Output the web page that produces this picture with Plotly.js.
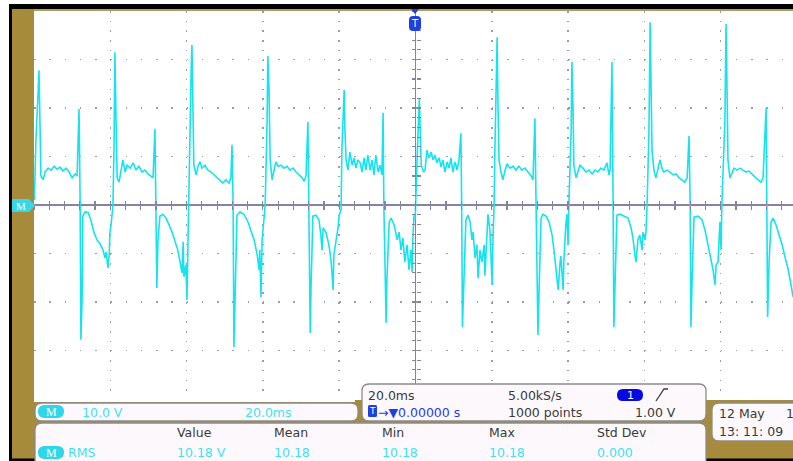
<!DOCTYPE html>
<html>
<head>
<meta charset="utf-8">
<script src="https://cdn.plot.ly/plotly-3.0.1.min.js"></script>
<style>html,body{margin:0;padding:0;background:#fff;}#chart{width:793px;height:461px;}</style>
</head>
<body>
<div id="chart"></div>
<script>
// ---- waveform samples: [time (ms), voltage (V)], one array per mains cycle ----
const cycle0 = [[-99.9,1.0],[-99.5,13.4],[-98.9,23.7],[-98.7,27.8],[-98.4,15.5],[-98.2,6.0],
 [-97.6,5.2],[-97.1,6.8],[-96.3,7.6],[-95.5,7.2],[-94.7,8.0],[-94.0,7.4],[-93.2,7.8],[-92.4,7.0],[-91.6,7.6],[-90.8,6.8],[-90.0,5.6],[-89.2,6.4],[-88.7,6.0],
 [-88.2,19.8],[-87.9,0],[-87.7,-27.8],[-87.4,-19.6],[-87.2,-2.3],[-86.6,-1.4],[-85.8,-1.6],[-85.1,-3.1],[-84.3,-5.6],[-83.5,-7.2],[-82.7,-8.0],[-81.9,-9.3],[-81.4,-10.9],[-81.1,-9.7],[-80.9,-11.8],[-80.6,-13.0],[-80.3,-10.3],[-80.1,-5.6],[-79.8,-4.1]];
const cycle1 = [[-79.3,0],[-79.0,13.4],[-78.8,31.5],[-78.5,17.5],[-78.2,5.6],[-77.7,4.7],[-77.2,7.2],[-76.7,9.3],[-76.1,6.8],[-75.6,8.2],[-74.8,7.6],[-74.0,8.7],[-73.3,7.2],[-72.5,8.0],[-71.7,6.8],[-70.9,7.2],[-70.1,6.4],[-69.3,6.0],[-68.8,5.6],
 [-68.3,15.7],[-68.0,0],[-67.8,-17.1],[-67.5,-7.2],[-67.0,-2.3],[-66.2,-1.9],[-65.4,-2.7],[-64.6,-4.1],[-63.8,-5.6],[-63.0,-7.6],[-62.3,-9.3],[-61.7,-11.8],[-61.2,-14.0],[-60.9,-7.6],[-60.7,-14.8],[-60.2,-12.4],[-59.9,-19.6],[-59.6,-6.2],[-59.4,4.7]];
const cycle2 = [[-58.8,27.8],[-58.6,33.0],[-58.3,19.6],[-58.1,8.2],[-57.5,6.2],[-57.0,8.0],[-56.5,8.9],[-56.0,7.6],[-55.2,8.2],[-54.4,7.2],[-53.6,6.8],[-52.8,6.2],[-52.0,5.6],[-51.2,5.2],[-50.5,4.5],[-49.7,5.2],[-48.9,4.5],[-48.4,5.6],
 [-48.1,12.4],[-47.8,0],[-47.6,-29.3],[-47.3,-19.6],[-46.8,-2.1],[-46.0,-1.4],[-45.0,-1.9],[-43.9,-3.5],[-43.1,-5.2],[-42.3,-7.2],[-41.5,-10.3],[-41.0,-13.4],[-40.8,-9.3],[-40.5,-19.0],[-40.2,-7.2],[-39.4,0]];
const cycle3 = [[-38.9,17.5],[-38.7,30.7],[-38.4,23.7],[-38.1,9.3],[-37.6,5.2],[-37.1,7.2],[-36.6,8.9],[-36.0,8.0],[-35.2,8.2],[-34.5,7.6],[-33.7,8.0],[-32.9,7.2],[-32.1,7.6],[-31.3,6.8],[-30.5,6.2],[-29.7,5.6],[-29.2,4.9],[-28.7,6.0],
 [-28.2,17.1],[-27.9,0],[-27.6,-26.4],[-27.4,-17.5],[-26.9,-2.3],[-26.1,-2.1],[-25.3,-3.1],[-24.8,-6.2],[-24.5,-9.3],[-24.2,-4.7],[-23.5,-5.6],[-22.7,-8.2],[-22.1,-11.8],[-21.6,-17.5],[-21.4,-10.3],[-20.8,-7.2],[-20.3,-4.7],[-20.0,-2.1],[-19.5,-1.0]];
const cycle4 = [[-19.3,11.3],[-18.7,23.7],[-18.5,15.5],[-18.2,9.3],[-17.7,7.2],[-17.2,10.9],[-16.6,8.2],[-16.1,9.7],[-15.6,7.6],[-15.1,9.3],[-14.5,8.7],[-14.0,6.8],[-13.5,9.7],[-13.0,7.2],[-12.5,10.3],[-11.9,7.2],[-11.4,9.3],[-10.9,6.2],[-10.4,10.3],[-9.8,6.8],[-9.3,8.2],[-8.8,6.2],
 [-8.5,19.0],[-8.3,0],[-7.7,-24.3],[-7.5,-15.5],[-6.9,-3.5],[-6.4,-2.7],[-5.6,-4.1],[-4.8,-7.2],[-4.3,-5.6],[-3.8,-9.3],[-3.3,-6.8],[-2.8,-11.8],[-2.2,-8.2],[-1.7,-13.4],[-1.2,-9.3],[-0.9,-13.8],[-0.7,-7.2],[-0.4,-2.1],[-0.1,-3.1]];
const cycle5 = [[0.0,0],[0.5,11.3],[1.0,21.9],[1.3,13.4],[1.5,8.2],[2.1,6.8],[2.5,7.2],[3.0,11.3],[3.5,9.7],[4.1,10.9],[4.6,9.3],[5.1,10.3],[5.6,8.7],[6.2,9.7],[6.7,7.8],[7.2,9.3],[7.7,6.8],[8.3,8.9],[8.8,7.6],[9.3,9.7],[9.8,6.8],[10.4,8.9],[10.9,7.2],[11.4,9.3],
 [11.9,14.8],[12.1,0],[12.3,-25.2],[12.7,-15.5],[13.2,-3.1],[13.8,-2.1],[14.3,-3.5],[14.8,-7.2],[15.1,-5.6],[15.6,-10.9],[16.1,-8.2],[16.4,-15.1],[16.9,-9.3],[17.4,-11.8],[18.0,-8.2],[18.2,-14.6],[18.5,-9.3],[19.0,-1.9],[19.5,-5.2],[20.1,-16.5],[20.3,-7.2],[20.6,0]];
const cycle6 = [[20.8,10.9],[21.4,34.6],[21.6,21.6],[21.9,9.3],[22.4,6.8],[22.9,5.2],[23.5,7.2],[24.0,8.5],[24.8,7.6],[25.6,8.0],[26.3,7.2],[27.1,8.0],[27.9,7.2],[28.7,7.6],[29.5,6.8],[30.3,6.0],[30.8,5.2],
 [31.3,17.9],[31.6,0],[32.1,-26.8],[32.4,-17.5],[32.9,-2.7],[33.4,-1.9],[34.2,-2.3],[35.0,-3.5],[35.8,-6.2],[36.3,-9.3],[36.8,-13.4],[37.4,-17.5],[37.9,-11.8],[38.1,-10.5],[38.7,-17.5],[38.9,-11.3],[39.4,-4.1],[39.7,-1.9],[40.0,-8.2],[40.2,0]];
const cycle7 = [[40.8,15.5],[41.0,29.5],[41.3,19.6],[41.5,8.2],[42.1,5.6],[42.6,7.2],[43.1,8.2],[43.9,7.6],[44.7,6.8],[45.5,7.2],[46.3,6.4],[47.0,7.2],[47.8,6.8],[48.6,7.6],[49.4,7.2],[50.2,8.7],[50.7,6.2],[51.0,7.2],
 [51.5,29.5],[51.8,0],[52.0,-25.2],[52.3,-16.5],[52.8,-2.1],[53.6,-1.9],[54.7,-2.3],[55.7,-2.7],[56.5,-4.7],[57.0,-6.8],[57.5,-10.3],[57.8,-11.8],[58.3,-7.2],[58.8,-6.2],[59.4,-9.3],[59.6,-5.6],[60.2,-7.2],[60.4,-5.6],[60.7,0]];
const cycle8 = [[61.2,15.5],[61.5,37.7],[61.7,23.7],[62.0,11.3],[62.5,7.2],[63.0,5.6],[63.6,7.6],[64.1,9.3],[64.6,7.6],[65.1,6.8],[65.9,7.2],[66.7,6.8],[67.5,6.2],[68.3,6.4],[69.1,5.6],[69.9,5.2],[70.6,4.7],[71.2,5.6],
 [71.7,14.2],[72.0,0],[72.2,-25.2],[72.5,-15.5],[73.0,-2.5],[74.1,-2.3],[75.1,-3.1],[75.9,-5.2],[76.7,-8.2],[77.5,-10.9],[78.0,-13.4],[78.5,-16.5],[78.8,-12.4],[79.3,-11.8],[79.6,-7.2],[79.8,-3.5],[80.1,-9.3],[80.3,0]];
const cycle9 = [[81.1,17.5],[81.4,37.3],[81.7,21.6],[81.9,9.3],[82.4,5.6],[83.0,6.8],[83.5,7.6],[84.3,7.2],[85.1,7.6],[85.8,7.2],[86.6,6.8],[87.4,7.0],[88.2,6.4],[89.0,5.6],[89.8,5.2],[90.6,4.7],[91.1,5.6],
 [91.9,20.0],[92.1,0],[92.3,-23.1],[92.7,-11.3],[93.2,-3.5],[93.7,-2.7],[94.5,-4.1],[95.3,-6.2],[96.1,-8.2],[96.9,-10.9],[97.6,-13.0],[98.2,-15.5],[99.0,-19.0]];

// ---- readout texts ----
const voltsPerDiv = '10.0 V';
const timePerDiv = '20.0ms';
const sampleRate = '5.00kS/s';
const recordLength = '1000 points';
const triggerLevel = '1.00 V';
const triggerPos = '\u2192\u25BC0.00000 s';
const measHeaders = ['Value', 'Mean', 'Min', 'Max', 'Std Dev'];
const measValues = ['10.18 V', '10.18', '10.18', '10.18', '0.000'];
const measName = 'RMS';
const dateText = '12 May';
const timeText = '13: 11: 09';

const cycles = [cycle0, cycle1, cycle2, cycle3, cycle4, cycle5, cycle6, cycle7, cycle8, cycle9];
const pts = cycles.flat();
const tMs = pts.map(p => p[0]);
const vV = pts.map(p => p[1]);

// ---- pixel -> paper helpers for the instrument frame ----
const L = 34, R = 793, T = 11, B = 399;
const fx = px => (px - L) / (R - L);
const fy = py => (B - py) / (B - T);
const GOLD = '#a68b3a';
function rect(x0, y0, x1, y1, fill) {
  return {type: 'rect', xref: 'paper', yref: 'paper', layer: 'above',
    x0: fx(x0), x1: fx(x1), y0: fy(y1), y1: fy(y0), fillcolor: fill, line: {width: 0}};
}
function rr(x0, y0, x1, y1, r, fill, stroke, sw) {
  const p = (x, y) => fx(x) + ',' + fy(y);
  const d = 'M' + p(x0 + r, y0) + ' L' + p(x1 - r, y0) + ' Q' + p(x1, y0) + ' ' + p(x1, y0 + r) +
    ' L' + p(x1, y1 - r) + ' Q' + p(x1, y1) + ' ' + p(x1 - r, y1) + ' L' + p(x0 + r, y1) +
    ' Q' + p(x0, y1) + ' ' + p(x0, y1 - r) + ' L' + p(x0, y0 + r) + ' Q' + p(x0, y0) + ' ' + p(x0 + r, y0) + ' Z';
  return {type: 'path', xref: 'paper', yref: 'paper', layer: 'above', path: d,
    fillcolor: fill, line: {color: stroke || fill, width: sw === undefined ? 0 : sw}};
}
function poly(points, fill, stroke, sw) {
  const d = 'M' + points.map(q => fx(q[0]) + ',' + fy(q[1])).join(' L') + (fill ? ' Z' : '');
  return {type: 'path', xref: 'paper', yref: 'paper', layer: 'above', path: d,
    fillcolor: fill || 'rgba(0,0,0,0)', line: {color: stroke || fill, width: sw || 0}};
}
function txt(s, x, y, color, opts) {
  opts = opts || {};
  return {text: s, xref: 'paper', yref: 'paper', x: fx(x), y: fy(y), showarrow: false,
    xanchor: opts.anchor || 'left', yanchor: 'middle', borderpad: 0,
    font: {family: opts.family || 'DejaVu Sans', size: opts.size || 12.5, color: color}};
}

const CYAN_T = '#3fe2f2', DARK = '#3a3a3a', BLUE = '#1f3fe0', PANEL = '#fcf8fc', EDGE = '#8c8c8c';

const shapes = [
  rect(9, 4, 793, 9.5, '#000000'),
  rect(34, 9, 793, 11, '#b39c62'),
  rect(9, 4, 12, 461, '#000000'),
  rect(12, 9, 34, 459, GOLD),
  rect(34, 402, 362, 459, GOLD),
  rect(355, 400, 793, 459, GOLD),
  rect(9, 458.5, 793, 461, '#000000'),
  rr(362, 384, 706, 421, 7, PANEL, EDGE, 1.3),
  rr(35, 403, 358, 421, 7, PANEL, EDGE, 1.3),
  rr(35, 423, 706, 466, 7, PANEL, EDGE, 1.3),
  rr(712, 403, 806, 441, 7, PANEL, EDGE, 1.3),
  // channel / math badges
  rr(38, 405, 64, 418, 6.5, '#2fd6ea'),
  rr(38, 446, 64, 459, 6.5, '#2fd6ea'),
  rr(617, 389, 643, 401, 6, '#0808e0'),
  rr(368, 405, 377, 417, 1.5, BLUE),
  // rising-edge trigger slope symbol
  poly([[656, 401], [664, 389], [668, 389]], null, DARK, 1.3),
  // ground marker on left bar
  poly([[12, 199], [29, 199], [35, 205.5], [29, 212], [12, 212]], '#36d8ea'),
  // trigger position marker
  poly([[411, 9], [419, 9], [415, 14]], BLUE),
  rr(409, 16, 421, 31, 4, BLUE)
];

const annotations = [
  txt('M', 51, 411.8, '#ffffff', {anchor: 'center', family: 'Liberation Serif', size: 12}),
  txt(voltsPerDiv, 81, 412, CYAN_T),
  txt(timePerDiv, 244, 412, CYAN_T),
  txt(timePerDiv, 367, 395, DARK),
  txt(sampleRate, 507, 395, DARK),
  txt('1', 630, 395, '#ffffff', {anchor: 'center', size: 11}),
  txt('T', 372.5, 411.5, '#ffffff', {anchor: 'center', size: 9}),
  txt(triggerPos, 377, 412, BLUE),
  txt(recordLength, 507, 412, DARK),
  txt(triggerLevel, 677, 412, DARK, {anchor: 'right'}),
  txt('M', 51, 452.8, '#ffffff', {anchor: 'center', family: 'Liberation Serif', size: 12}),
  txt(measName, 67, 452, CYAN_T),
  txt(dateText, 718, 413, DARK),
  txt('1', 785, 413, DARK),
  txt(timeText, 718, 432, DARK),
  txt('M', 20.5, 205.8, '#f4ffff', {anchor: 'center', family: 'Liberation Serif', size: 11}),
  txt('T', 415, 23, '#ffffff', {anchor: 'center', size: 10})
];
const colX = [176, 273, 381, 488, 596];
measHeaders.forEach((h, i) => annotations.push(txt(h, colX[i], 433, DARK)));
measValues.forEach((v, i) => annotations.push(txt(v, colX[i], 452, CYAN_T)));

const XR = [-100, 98.95], YR = [-40, 40];
const tickAx = (range, dtick, ticks, extra) => Object.assign({
  range: range, dtick: dtick, tick0: 0, ticks: ticks, ticklen: 4, tickwidth: 1.2, tickcolor: '#8484a2',
  showticklabels: false, showgrid: false, zeroline: false, showline: false, fixedrange: true, anchor: 'free'
}, extra);

const data = [
  {x: tMs, y: vV, type: 'scatter', mode: 'lines', line: {color: '#14e4f0', width: 1.6}, hoverinfo: 'skip'},
  {x: [null], y: [null], xaxis: 'x2', yaxis: 'y', mode: 'lines', hoverinfo: 'skip'},
  {x: [null], y: [null], xaxis: 'x3', yaxis: 'y', mode: 'lines', hoverinfo: 'skip'},
  {x: [null], y: [null], xaxis: 'x', yaxis: 'y2', mode: 'lines', hoverinfo: 'skip'},
  {x: [null], y: [null], xaxis: 'x', yaxis: 'y3', mode: 'lines', hoverinfo: 'skip'}
];

const layout = {
  width: 793, height: 461,
  margin: {l: L, r: 0, t: T, b: 461 - B, pad: 0},
  paper_bgcolor: '#ffffff', plot_bgcolor: '#ffffff', showlegend: false,
  xaxis: {range: XR, dtick: 20, tick0: 0, showgrid: true, gridcolor: '#9c9ca6', gridwidth: 1.5,
    griddash: '1.5px,8.2px', zeroline: true, zerolinecolor: '#8484a2', zerolinewidth: 1.6,
    showticklabels: false, ticks: '', showline: false, fixedrange: true},
  yaxis: {range: YR, dtick: 10, tick0: 0, showgrid: true, gridcolor: '#9c9ca6', gridwidth: 1.5,
    griddash: '1.5px,13.76px', zeroline: true, zerolinecolor: '#8484a2', zerolinewidth: 1.6,
    showticklabels: false, ticks: '', showline: false, fixedrange: true},
  xaxis2: tickAx(XR, 4, 'inside', {overlaying: 'x', position: 0.5}),
  xaxis3: tickAx(XR, 4, 'outside', {overlaying: 'x', position: 0.5}),
  yaxis2: tickAx(YR, 2, 'inside', {overlaying: 'y', position: fx(415.5)}),
  yaxis3: tickAx(YR, 2, 'outside', {overlaying: 'y', position: fx(415.5)}),
  shapes: shapes,
  annotations: annotations
};

Plotly.newPlot('chart', data, layout, {staticPlot: true, displayModeBar: false});
</script>
</body>
</html>
